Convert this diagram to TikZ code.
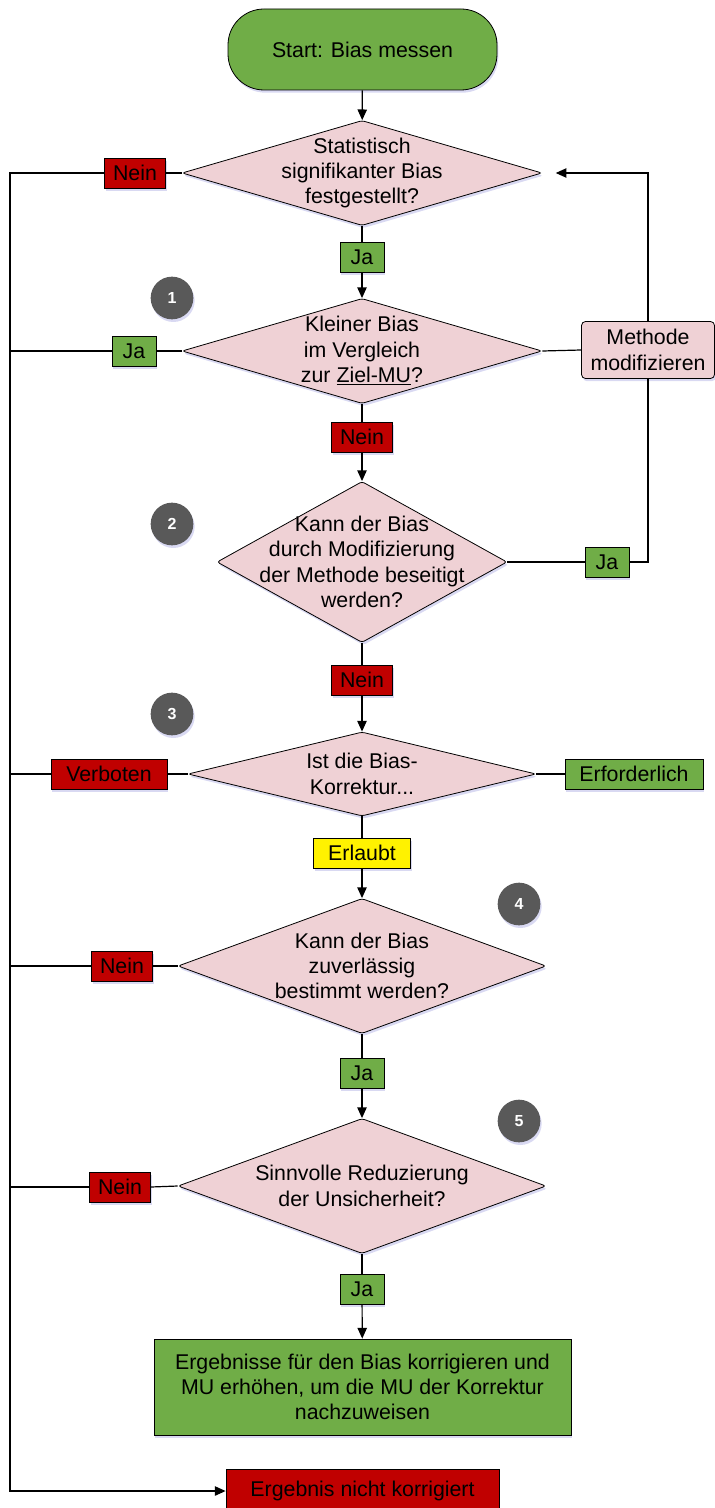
\documentclass[tikz,border=0pt]{standalone}
\usepackage{fontspec}
\setmainfont{Liberation Sans}
\usetikzlibrary{shapes, shapes.geometric, arrows.meta, positioning, shadows}

\definecolor{okgreen}{RGB}{112,173,71}
\definecolor{nored}{RGB}{192,0,0}
\definecolor{qpink}{RGB}{239,209,213}
\definecolor{markgrey}{RGB}{89,89,89}

\begin{document}
\begin{tikzpicture}[x=0.75pt, y=-0.75pt,
    font=\fontsize{16}{19}\selectfont,
    every node/.style={inner sep=0pt},
    lift/.style={drop shadow={shadow xshift=1pt, shadow yshift=-2pt, opacity=0.2, fill=blue!50!gray}},
    question/.style={diamond, draw, fill=qpink, rounded corners=2pt, line width=0.6pt, lift},
    qtext/.style={align=center},
    answer/.style={draw, minimum height=22.5pt, line width=0.6pt, lift},
    yes/.style={answer, fill=okgreen},
    no/.style={answer, fill=nored},
    marker/.style={circle, fill=markgrey, text=white, minimum size=32pt, font=\bfseries\fontsize{12}{14}\selectfont, lift},
    line/.style={line width=0.9pt},
    arrow/.style={line, -{Triangle[length=8pt, width=7pt]}}]
    \useasboundingbox (0,0) rectangle (714,1508);

    % Start
    \node[draw, fill=okgreen, rounded corners=27pt, minimum width=201.75pt, minimum height=60.75pt, line width=0.6pt, lift] (start) at (362.5,49.5) {Start: Bias messen};

    % Questions
    \node[question, minimum width=270pt, minimum height=78.75pt] (q1) at (362,173) {};
    \node[qtext] at (q1) {Statistisch\\signifikanter Bias\\festgestellt?};
    \node[question, minimum width=270pt, minimum height=78.75pt] (q2) at (362,351) {};
    \node[qtext] at (q2) {Kleiner Bias\\im Vergleich\\zur \underline{Ziel-MU}?};
    \node[question, minimum width=217.5pt, minimum height=120.75pt] (q3) at (362,562) {};
    \node[qtext] at (q3) {Kann der Bias\\durch Modifizierung\\der Methode beseitigt\\werden?};
    \node[question, minimum width=261pt, minimum height=63pt] (q4) at (362,774) {};
    \node[qtext] at (q4) {Ist die Bias-\\Korrektur...};
    \node[question, minimum width=276pt, minimum height=101.25pt] (q5) at (362,966) {};
    \node[qtext] at (q5) {Kann der Bias\\zuverlässig\\bestimmt werden?};
    \node[question, minimum width=276pt, minimum height=101.25pt] (q6) at (362,1186) {};
    \node[qtext] at (q6) {Sinnvolle Reduzierung\\der Unsicherheit?};

    % Answers
    \node[no, minimum width=45.75pt] (nein1) at (135,173) {Nein};
    \node[yes, minimum width=33pt] (ja1) at (362,257) {Ja};
    \node[yes, minimum width=33pt] (ja2) at (134,351) {Ja};
    \node[no, minimum width=45.75pt] (nein2) at (362,437) {Nein};
    \node[yes, minimum width=33pt] (ja3) at (607,562) {Ja};
    \node[no, minimum width=45.75pt] (nein3) at (362,680) {Nein};
    \node[no, minimum width=87pt] (verboten) at (109,774) {Verboten};
    \node[yes, minimum width=103.5pt] (erforderlich) at (634,774) {Erforderlich};
    \node[answer, fill=yellow, minimum width=72.75pt] (erlaubt) at (362,853) {Erlaubt};
    \node[no, minimum width=45.75pt] (nein5) at (122,966) {Nein};
    \node[yes, minimum width=33pt] (ja5) at (362,1073) {Ja};
    \node[no, minimum width=45.75pt] (nein6) at (120,1187) {Nein};
    \node[yes, minimum width=33pt] (ja6) at (362,1289) {Ja};

    % Actions
    \node[draw, fill=qpink, rounded corners=3pt, minimum width=99.75pt, minimum height=42.75pt, align=center, line width=0.6pt, lift] (modify) at (648,350) {Methode\\modifizieren};
    \node[draw, fill=okgreen, minimum width=312.75pt, minimum height=72pt, align=center, line width=0.6pt, lift] (correct) at (362.5,1387) {Ergebnisse für den Bias korrigieren und\\MU erhöhen, um die MU der Korrektur\\nachzuweisen};
    \node[no, minimum width=204.75pt, minimum height=33pt] (final) at (362.5,1491) {Ergebnis nicht korrigiert};

    % Step markers
    \node[marker] (m1) at (172,298) {1};
    \node[marker] (m2) at (172,524) {2};
    \node[marker] (m3) at (172,714) {3};
    \node[marker] (m4) at (519,904) {4};
    \node[marker] (m5) at (519,1121) {5};

    % Left bus
    \coordinate (bustop) at (10,173);
    \coordinate (busend) at (10,1491);

    % Main flow
    \draw[arrow] (start) -- (q1);
    \draw[line] (q1) -- (ja1);
    \draw[arrow] (ja1) -- (q2);
    \draw[line] (q2) -- (nein2);
    \draw[arrow] (nein2) -- (q3);
    \draw[line] (q3) -- (nein3);
    \draw[arrow] (nein3) -- (q4);
    \draw[line] (q4) -- (erlaubt);
    \draw[arrow] (erlaubt) -- (q5);
    \draw[line] (q5) -- (ja5);
    \draw[arrow] (ja5) -- (q6);
    \draw[line] (q6) -- (ja6);
    \draw[arrow] (ja6) -- (correct);

    % Left side
    \draw[line] (q1.west) -- (nein1.east);
    \draw[arrow] (nein1.west) -- (bustop) -- (busend) -- (final.west);
    \draw[line] (q2.west) -- (ja2.east);
    \draw[line] (ja2.west) -- (ja2.west -| bustop);
    \draw[line] (q4.west) -- (verboten.east);
    \draw[line] (verboten.west) -- (verboten.west -| bustop);
    \draw[line] (q5.west) -- (nein5.east);
    \draw[line] (nein5.west) -- (nein5.west -| bustop);
    \draw[line] (q6.west) -- (nein6.east);
    \draw[line] (nein6.west) -- (nein6.west -| bustop);

    % Right side
    \draw[line] (q2.east) -- (modify.west);
    \draw[arrow, shorten >=10pt] (modify.north) |- (q1.east);
    \draw[line] (q3.east) -- (ja3.west);
    \draw[line] (ja3.east) -| (modify.south);
    \draw[line] (q4.east) -- (erforderlich.west);

\end{tikzpicture}
\end{document}
